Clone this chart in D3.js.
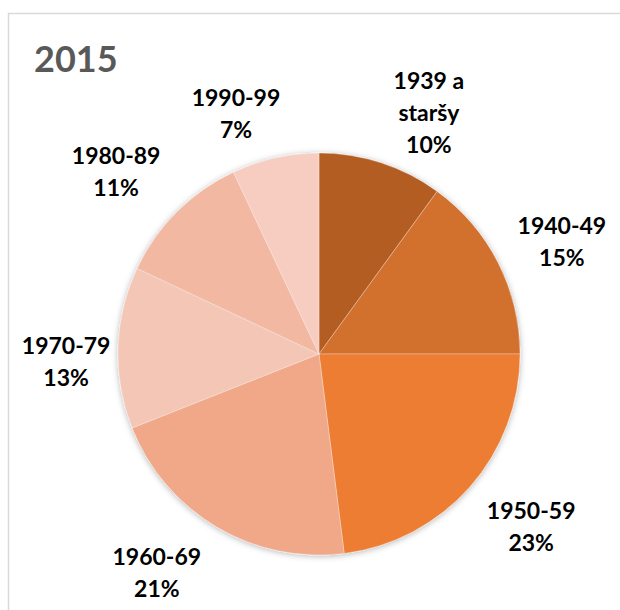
<!DOCTYPE html>
<html>
<head>
<meta charset="utf-8">
<script src="https://cdn.jsdelivr.net/npm/d3@7"></script>
<style>
  html, body { margin: 0; padding: 0; background: #fff; }
  svg { display: block; }
</style>
</head>
<body>
<div id="chart"></div>
<script>
// ---- data ----
const title = "2015";
const categories = ["1939 a staršy", "1940-49", "1950-59", "1960-69", "1970-79", "1980-89", "1990-99"];
const values = [10, 15, 23, 21, 13, 11, 7];
const colors = ["#b45d22", "#d2702d", "#ed7d31", "#f0a889", "#f3c6b6", "#f2b8a2", "#f7cdc1"];

// ---- layout ----
const W = 620, H = 610;
const cx = 319, cy = 354, R = 201;
// label placement relative to slice mid-angle: [angle nudge (deg), distance from centre]
const labelNudge = [[6.4, 266], [2, 268], [-2.4, 273], [6, 272], [-3.4, 253], [-3, 273], [-6.4, 255]];
const lineH = 32;

const svg = d3.select("#chart").append("svg")
  .attr("width", W).attr("height", H);

const defs = svg.append("defs");
const f = defs.append("filter").attr("id", "shadow")
  .attr("x", "-20%").attr("y", "-20%").attr("width", "140%").attr("height", "140%");
f.append("feDropShadow").attr("dx", 0).attr("dy", 1).attr("stdDeviation", 3)
  .attr("flood-color", "#000").attr("flood-opacity", 0.3);

// chart area border
svg.append("rect")
  .attr("x", 8.5).attr("y", 13.5).attr("width", 800).attr("height", 800)
  .attr("fill", "none").attr("stroke", "#d9d9d9").attr("stroke-width", 1.5);

// title
svg.append("text")
  .attr("x", 34).attr("y", 72)
  .attr("font-family", "Lato, 'Open Sans', sans-serif")
  .attr("font-weight", 700).attr("font-size", 36)
  .attr("fill", "#595959")
  .text(title);

const data = categories.map((c, i) => ({ cat: c, value: values[i], color: colors[i] }));
const pie = d3.pie().value(d => d.value).sort(null);
const arcs = pie(data);
const arc = d3.arc().innerRadius(0).outerRadius(R);

const g = svg.append("g").attr("transform", `translate(${cx},${cy})`);
const slices = g.append("g").attr("filter", "url(#shadow)");
slices.selectAll("path").data(arcs).join("path")
  .attr("d", arc)
  .attr("fill", d => d.data.color)
  .attr("stroke", "#fff").attr("stroke-width", 0.3);

// labels
const total = d3.sum(values);
const ctx = document.createElement("canvas").getContext("2d");
ctx.font = "700 23px Lato";
function wrap(text, maxW) {
  const words = text.split(" ");
  const lines = [];
  let cur = "";
  words.forEach(w => {
    const t = cur ? cur + " " + w : w;
    if (cur && ctx.measureText(t).width > maxW) { lines.push(cur); cur = w; }
    else cur = t;
  });
  if (cur) lines.push(cur);
  return lines;
}

const labels = g.append("g")
  .attr("font-family", "Lato, 'Open Sans', sans-serif")
  .attr("font-weight", 700).attr("font-size", 23)
  .attr("fill", "#000").attr("text-anchor", "middle");

arcs.forEach((a, i) => {
  const mid = (a.startAngle + a.endAngle) / 2;
  const ang = mid + labelNudge[i][0] * Math.PI / 180;
  const [lx, ly] = d3.pointRadial(ang, labelNudge[i][1]);
  const lines = wrap(a.data.cat, 90).concat([Math.round(a.data.value / total * 100) + "%"]);
  const t = labels.append("text").attr("transform", `translate(${lx},${ly})`);
  lines.forEach((ln, k) => {
    t.append("tspan").attr("x", 0)
      .attr("y", (k - (lines.length - 1) / 2) * lineH)
      .attr("dominant-baseline", "central")
      .text(ln);
  });
});
</script>
</body>
</html>
